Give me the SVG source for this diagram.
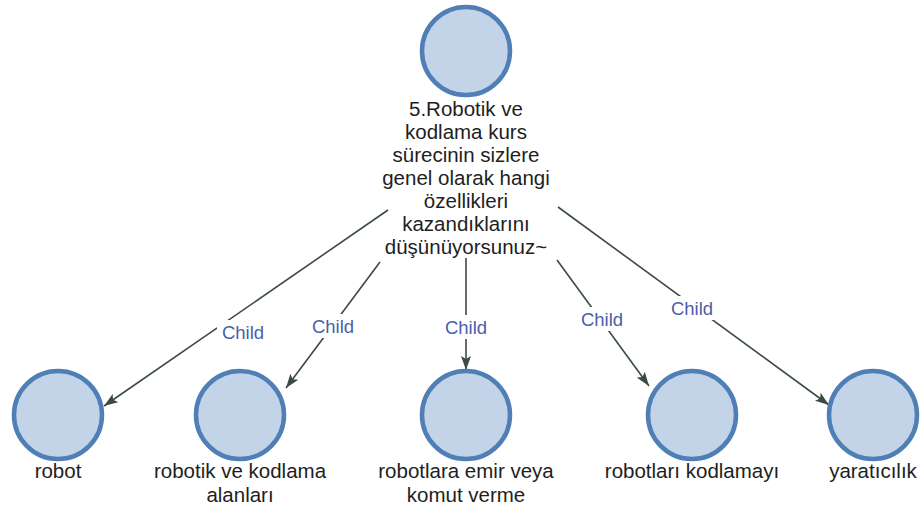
<svg xmlns="http://www.w3.org/2000/svg" width="923" height="527" viewBox="0 0 923 527">
  <style>
    .node circle { fill: #c3d3e8; stroke: #4f7fb5; stroke-width: 4.5; }
    .node text { font-family: "Liberation Sans", Arial, sans-serif; font-size: 20.5px; fill: #1e1e1e; text-anchor: middle; }
    .edge line { stroke: #3b4a44; stroke-width: 1.6; fill: none; }
    .edge text { font-family: "Liberation Sans", Arial, sans-serif; font-size: 18.5px; fill: #4a5fa8; text-anchor: middle; }
    .labelbg { fill: #ffffff; }
  </style>
  <defs>
    <marker id="arrow" viewBox="0 0 14 10" refX="14" refY="5" markerWidth="14" markerHeight="10" markerUnits="userSpaceOnUse" orient="auto">
      <path d="M0,0 L14,5 L0,10 L3,5 Z" fill="#3b4a44"/>
    </marker>
  </defs>
  <rect width="923" height="527" fill="#ffffff"/>

  <g id="connectors">
    <g class="edge">
      <line x1="388" y1="210" x2="104" y2="406" marker-end="url(#arrow)"/>
      <rect class="labelbg" x="217" y="320" width="52" height="24"/>
      <text x="243" y="339">Child</text>
    </g>
    <g class="edge">
      <line x1="380" y1="262" x2="286" y2="388" marker-end="url(#arrow)"/>
      <rect class="labelbg" x="307" y="314" width="52" height="24"/>
      <text x="333" y="333">Child</text>
    </g>
    <g class="edge">
      <line x1="466" y1="258" x2="466" y2="370" marker-end="url(#arrow)"/>
      <rect class="labelbg" x="440" y="315" width="52" height="24"/>
      <text x="466" y="334">Child</text>
    </g>
    <g class="edge">
      <line x1="557" y1="260" x2="649" y2="386" marker-end="url(#arrow)"/>
      <rect class="labelbg" x="576" y="307" width="52" height="24"/>
      <text x="602" y="326">Child</text>
    </g>
    <g class="edge">
      <line x1="558" y1="207" x2="829" y2="405" marker-end="url(#arrow)"/>
      <rect class="labelbg" x="666" y="296" width="52" height="24"/>
      <text x="692" y="315">Child</text>
    </g>
  </g>

  <g id="node-question" class="node">
    <circle cx="466" cy="51" r="44"/>
    <text x="466" y="116">5.Robotik ve</text>
    <text x="466" y="139">kodlama kurs</text>
    <text x="466" y="162">sürecinin sizlere</text>
    <text x="466" y="185">genel olarak hangi</text>
    <text x="466" y="208">özellikleri</text>
    <text x="466" y="231">kazandıklarını</text>
    <text x="466" y="254">düşünüyorsunuz~</text>
  </g>

  <g id="node-robot" class="node">
    <circle cx="58" cy="415" r="44"/>
    <text x="58" y="478">robot</text>
  </g>

  <g id="node-robotik" class="node">
    <circle cx="240" cy="415" r="44"/>
    <text x="240" y="478">robotik ve kodlama</text>
    <text x="240" y="502">alanları</text>
  </g>

  <g id="node-emir" class="node">
    <circle cx="466" cy="415" r="44"/>
    <text x="466" y="478">robotlara emir veya</text>
    <text x="466" y="502">komut verme</text>
  </g>

  <g id="node-kodlama" class="node">
    <circle cx="692" cy="415" r="44"/>
    <text x="692" y="478">robotları kodlamayı</text>
  </g>

  <g id="node-yaraticilik" class="node">
    <circle cx="873" cy="415" r="44"/>
    <text x="873" y="478">yaratıcılık</text>
  </g>
</svg>
